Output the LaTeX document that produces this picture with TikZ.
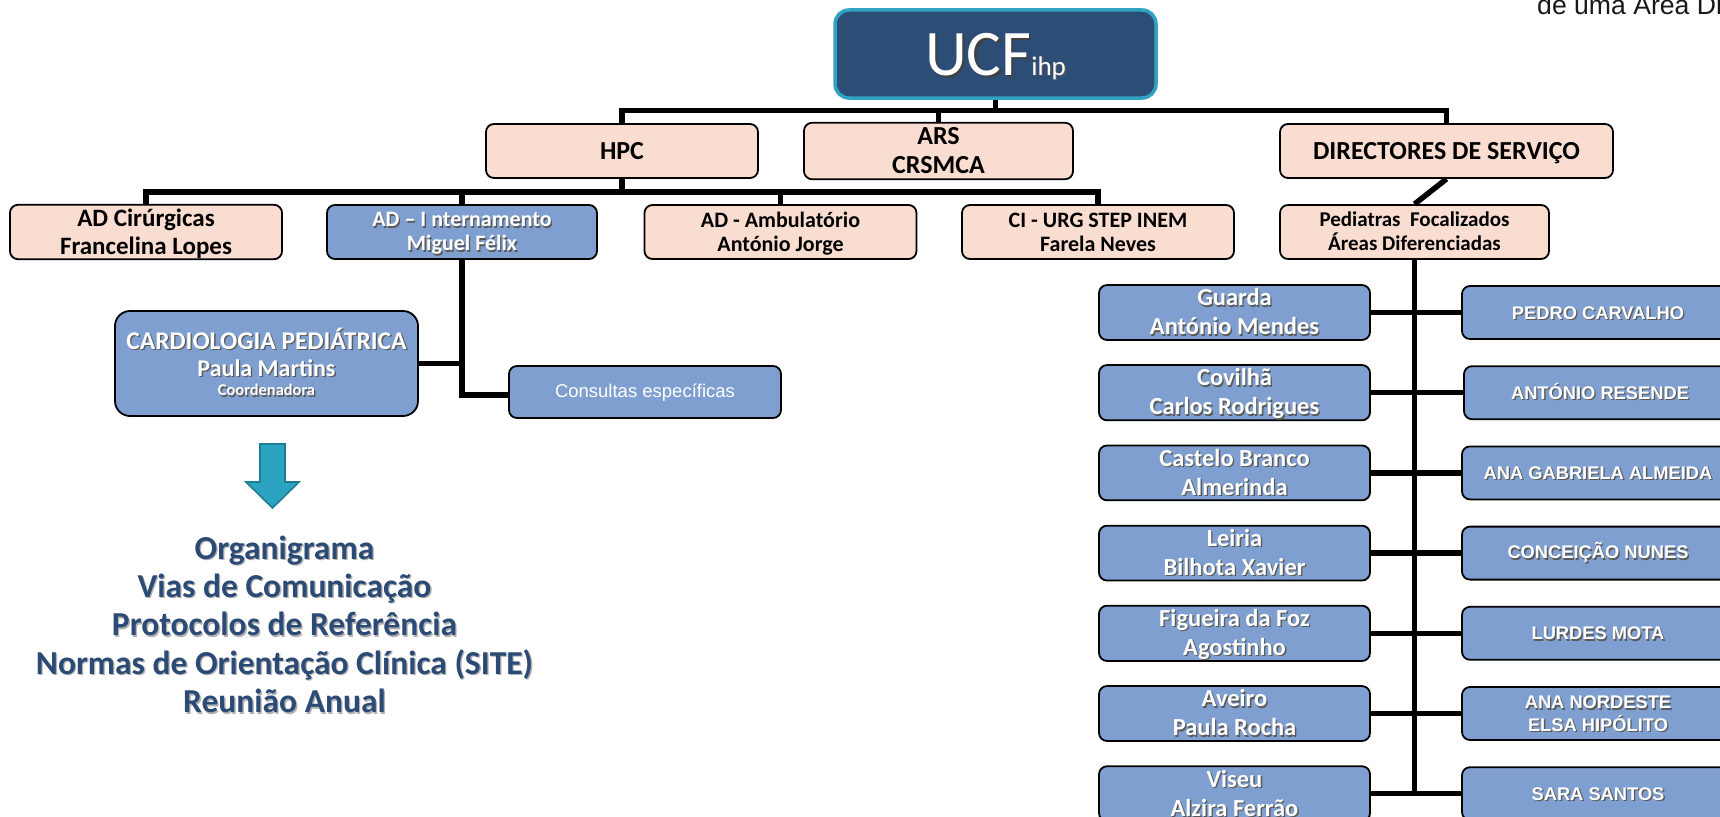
\documentclass[tikz,border=0pt]{standalone}
\usepackage{fontspec}
\setmainfont{Carlito}
\newfontfamily\arialf{Liberation Sans}
\definecolor{peach}{HTML}{F9DDD0}
\definecolor{boxblue}{HTML}{7E9FCF}
\definecolor{ucffill}{HTML}{2C4D76}
\definecolor{ucfborder}{HTML}{31A3C2}
\definecolor{navytext}{HTML}{2B4A76}
\definecolor{arrowfill}{HTML}{2BA3C1}
\definecolor{arrowedge}{HTML}{1F7D95}
\newcommand\stC{\rule[-0.206em]{0pt}{1.056em}}
\newcommand\stA{\rule[-0.134em]{0pt}{0.984em}}
\newcommand\shd[2][black!65]{\makebox[0pt][l]{\kern1.3pt\raisebox{-1.3pt}{\textcolor{#1}{#2}}}#2}
\newcommand\shdbig[1]{\makebox[0pt][l]{\kern2.2pt\raisebox{-2.2pt}{\textcolor{black!75}{#1}}}#1}
\tikzset{
  conn/.style={draw=black, line width=5.5pt},
  boxbase/.style={draw=black, line width=1.8pt, rounded corners=8pt, inner sep=0pt, align=center, minimum height=53pt},
  peachbox/.style={boxbase, fill=peach, text=black},
  bluebox/.style={boxbase, fill=boxblue, text=white},
  topfont/.style={font={\bfseries\fontsize{26}{29}\selectfont}},
  midfont/.style={font={\bfseries\fontsize{22}{24}\selectfont}},
  cityfont/.style={font={\bfseries\fontsize{24.5}{29}\selectfont}},
  namefont/.style={font={\arialf\bfseries\fontsize{18.3}{22.3}\selectfont}},
  citybox/.style={bluebox, cityfont, minimum width=271pt},
  namebox/.style={bluebox, namefont, minimum width=272pt},
}
\begin{document}
\begin{tikzpicture}[x=1pt,y=-1pt]
\useasboundingbox (0,0) rectangle (1720,816);
\clip (0,0) rectangle (1720,816);
\fill[white] (0,0) rectangle (1720,816);

% top-right partial text
\node[anchor=base west, inner sep=0pt, text=black!90, font={\arialf\fontsize{26.6}{30}\selectfont}] (corner) at (1537,15) {de uma Área Di};

% root
\node[draw=ucfborder, fill=ucffill, line width=3.5pt, rounded corners=14pt, minimum width=321pt, minimum height=88pt, inner sep=0pt, text=white] (ucf) at (995.5,54)
  {\rule[-6pt]{0pt}{54pt}\fontsize{65}{70}\selectfont\shdbig{UCF}{\fontsize{27}{30}\selectfont\shd{ihp}}};

% level 1
\node[peachbox, topfont, minimum width=272pt, minimum height=54pt] (hpc) at (622,151) {\stC HPC};
\node[peachbox, topfont, minimum width=269pt, minimum height=54pt] (ars) at (938.5,151) {\stC ARS\\\stC CRSMCA};
\node[peachbox, topfont, minimum width=333pt, minimum height=54pt] (dir) at (1446.5,151) {\stC DIRECTORES DE SERVIÇO};

% level 2
\node[peachbox, font={\bfseries\fontsize{25}{28}\selectfont}, minimum width=272pt, minimum height=54pt] (adcir) at (146,232) {\stC AD Cirúrgicas\\\stC Francelina Lopes};
\node[bluebox, midfont, minimum width=270pt, minimum height=54pt] (adint) at (462,232) {\stC\shd{AD – I nternamento}\\\stC\shd{Miguel Félix}};
\node[peachbox, midfont, minimum width=272pt, minimum height=54pt] (adamb) at (780.5,232) {\stC AD - Ambulatório\\\stC António Jorge};
\node[peachbox, midfont, minimum width=272pt, minimum height=54pt] (ci) at (1098,232) {\stC CI - URG STEP INEM\\\stC Farela Neves};
\node[peachbox, font={\bfseries\fontsize{21}{24.3}\selectfont}, minimum width=269pt, minimum height=54pt] (ped) at (1414.5,232) {\stC Pediatras\ \ Focalizados\\\stC Áreas Diferenciadas};

% under AD Internamento
\node[bluebox, font={\bfseries}, rounded corners=15pt, minimum width=303pt, minimum height=105pt] (card) at (266.5,363.5)
  {\fontsize{25.5}{28.4}\selectfont\stC\shd{CARDIOLOGIA PEDIÁTRICA}\\
   \fontsize{24}{28.4}\selectfont\stC\shd{Paula Martins}\\
   \fontsize{16.4}{21.3}\selectfont\stC\shd{Coordenadora}};
\node[bluebox, font={\arialf\fontsize{18.5}{22}\selectfont}, minimum width=272pt, minimum height=52pt] (cons) at (645,392) {\stA Consultas específicas};

% left column
\node[citybox] (l1) at (1234.5,312.5) {\stC\shd{Guarda}\\\stC\shd{António Mendes}};
\node[citybox] (l2) at (1234.5,392.7) {\stC\shd{Covilhã}\\\stC\shd{Carlos Rodrigues}};
\node[citybox] (l3) at (1234.5,472.9) {\stC\shd{Castelo Branco}\\\stC\shd{Almerinda}};
\node[citybox] (l4) at (1234.5,553.1) {\stC\shd{Leiria}\\\stC\shd{Bilhota Xavier}};
\node[citybox] (l5) at (1234.5,633.3) {\stC\shd{Figueira da Foz}\\\stC\shd{Agostinho}};
\node[citybox] (l6) at (1234.5,713.5) {\stC\shd{Aveiro}\\\stC\shd{Paula Rocha}};
\node[citybox] (l7) at (1234.5,793.7) {\stC\shd{Viseu}\\\stC\shd{Alzira Ferrão}};

% right column
\node[namebox] (r1) at (1598,312.5) {\stA\shd{PEDRO CARVALHO}};
\node[namebox] (r2) at (1600,392.7) {\stA\shd{ANTÓNIO RESENDE}};
\node[namebox] (r3) at (1598,472.9) {\stA\shd{ANA GABRIELA ALMEIDA}};
\node[namebox] (r4) at (1598,553.1) {\stA\shd{CONCEIÇÃO NUNES}};
\node[namebox] (r5) at (1598,633.3) {\stA\shd{LURDES MOTA}};
\node[namebox] (r6) at (1598,713.5) {\stA\shd{ANA NORDESTE}\\\stA\shd{ELSA HIPÓLITO}};
\node[namebox] (r7) at (1598,793.7) {\stA\shd{SARA SANTOS}};

% bottom-left text block
\node[inner sep=0pt, align=center, text=navytext, font={\bfseries\fontsize{33.5}{38.4}\selectfont}] (org) at (284.5,625.2)
  {\stC\shd[black!30]{Organigrama}\\
   \stC\shd[black!30]{Vias de Comunicação}\\
   \stC\shd[black!30]{Protocolos de Referência}\\
   \stC\shd[black!30]{Normas de Orientação Clínica (SITE)}\\
   \stC\shd[black!30]{Reunião Anual}};

% big down arrow
\draw[draw=arrowedge, fill=arrowfill, line width=1.6pt, line join=miter]
  (260,444) -- (285,444) -- (285,482) -- (299,482) -- (272.5,508) -- (246,482) -- (260,482) -- cycle;

% connectors
\coordinate (bar1) at (0,110.5);
\coordinate (bar2) at (0,192);
\draw[conn] (hpc.north) |- (dir.north |- bar1) -- (dir.north);
\draw[conn] (ucf.south) -- (ucf.south |- bar1);
\draw[conn] (ars.north) -- (ars.north |- bar1);
\draw[conn] (hpc.south) -- (hpc.south |- bar2);
\draw[conn] (adcir.north) |- (ci.north |- bar2) -- (ci.north);
\draw[conn] (adint.north) -- (adint.north |- bar2);
\draw[conn] (adamb.north) -- (adamb.north |- bar2);
\draw[conn] (dir.south) -- (ped.north);
\draw[conn] (adint.south) |- ([yshift=-3pt]cons.west);
\draw[conn] (card.east) -- (card.east -| adint.south);
\draw[conn] (ped.south) -- (ped.south |- l7.east);
\foreach \i in {1,...,7} { \draw[conn] (l\i.east) -- (r\i.west); }
\end{tikzpicture}
\end{document}
